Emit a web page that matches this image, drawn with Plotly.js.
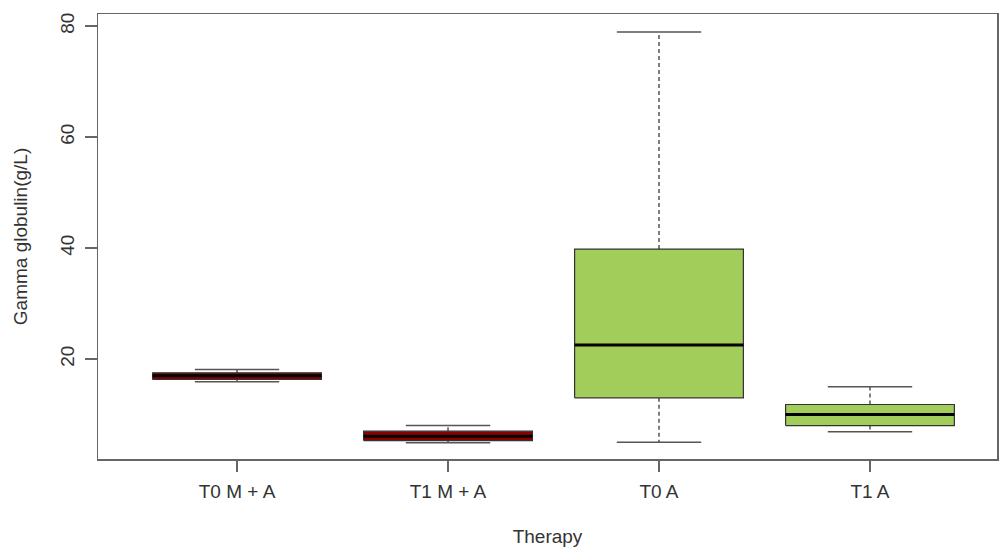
<!DOCTYPE html>
<html>
<head>
<meta charset="utf-8">
<script src="https://cdn.plot.ly/plotly-3.0.1.min.js"></script>
<style>html,body{margin:0;padding:0;background:#fff;}#chart{width:1000px;height:553px;}</style>
</head>
<body>
<div id="chart"></div>
<script>
// Data
const categories = ["T0 M + A", "T1 M + A", "T0 A", "T1 A"];
const lowerWhisker = [15.9, 4.9, 5.0, 6.9];
const q1Values     = [16.3, 5.3, 13.0, 8.0];
const medianValues = [17.0, 6.1, 22.5, 10.0];
const q3Values     = [17.5, 7.0, 39.8, 11.8];
const upperWhisker = [18.1, 8.0, 78.9, 15.0];
const boxColors    = ["#8B0000", "#8B0000", "#A2CD5A", "#A2CD5A"];
const yTickValues  = [20, 40, 60, 80];

const positions = categories.map((c, i) => i + 1);
const halfBox = 0.4, halfCap = 0.2;
const traces = [];

// whiskers (dashed)
const wx = [], wy = [];
positions.forEach((p, i) => {
  wx.push(p, p, null, p, p, null);
  wy.push(q3Values[i], upperWhisker[i], null, q1Values[i], lowerWhisker[i], null);
});
traces.push({x: wx, y: wy, type: 'scatter', mode: 'lines', line: {color: '#555', width: 1.5, dash: '4px,3px'}, hoverinfo: 'skip'});

// caps
const cx = [], cy = [];
positions.forEach((p, i) => {
  cx.push(p - halfCap, p + halfCap, null, p - halfCap, p + halfCap, null);
  cy.push(upperWhisker[i], upperWhisker[i], null, lowerWhisker[i], lowerWhisker[i], null);
});
traces.push({x: cx, y: cy, type: 'scatter', mode: 'lines', line: {color: '#555', width: 1.5}, hoverinfo: 'skip'});

// boxes
positions.forEach((p, i) => {
  traces.push({
    x: [p - halfBox, p + halfBox, p + halfBox, p - halfBox, p - halfBox],
    y: [q1Values[i], q1Values[i], q3Values[i], q3Values[i], q1Values[i]],
    type: 'scatter', mode: 'lines', fill: 'toself', fillcolor: boxColors[i],
    line: {color: '#333', width: 1.2}, hoverinfo: 'skip'
  });
});

// medians
const mx = [], my = [];
positions.forEach((p, i) => {
  mx.push(p - halfBox, p + halfBox, null);
  my.push(medianValues[i], medianValues[i], null);
});
traces.push({x: mx, y: my, type: 'scatter', mode: 'lines', line: {color: '#000', width: 3}, hoverinfo: 'skip'});

const fam = 'Liberation Sans, Arial, sans-serif';
const txt = {family: fam, size: 19, color: '#333'};
const layout = {
  width: 1000, height: 553,
  margin: {l: 98, r: 3, t: 14, b: 94, pad: 0},
  paper_bgcolor: '#fff', plot_bgcolor: '#fff',
  showlegend: false, hovermode: false,
  font: txt,
  xaxis: {
    range: [0.341, 4.602], tickmode: 'array', tickvals: positions, ticktext: categories,
    showgrid: false, zeroline: false, showline: true, mirror: true, linecolor: '#666', linewidth: 1.5,
    ticks: 'outside', ticklen: 11, tickcolor: '#666', tickwidth: 1.5, ticklabelstandoff: 4,
    tickfont: txt, automargin: false,
    title: {text: 'Therapy', font: txt, standoff: 28}
  },
  yaxis: {
    range: [1.98, 82.16], tickmode: 'array', tickvals: yTickValues, ticktext: yTickValues.map(String),
    showgrid: false, zeroline: false, showline: true, mirror: true, linecolor: '#666', linewidth: 1.5,
    ticks: 'outside', ticklen: 12, tickcolor: '#666', tickwidth: 1.5, tickangle: -90, ticklabelstandoff: 3,
    tickfont: txt, automargin: false,
    title: {text: 'Gamma globulin(g/L)', font: txt, standoff: 24}
  }
};
Plotly.newPlot('chart', traces, layout, {displayModeBar: false, staticPlot: true});
</script>
</body>
</html>
